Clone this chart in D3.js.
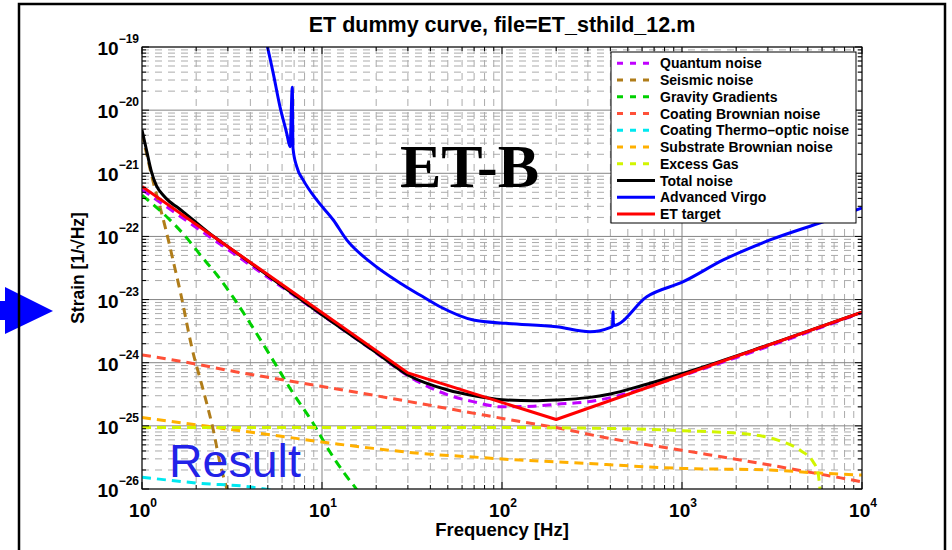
<!DOCTYPE html>
<html>
  <head>
    <title>ET-B sensitivity</title>
    <meta charset="utf-8">
    <script src="https://d3js.org/d3.v7.min.js"></script>
    <style>
      body { margin: 0; background: #fff; }
    </style>
  </head>

  <body>

    <svg width="952" height="550"></svg>

    <script>

      // values: [frequency in Hz, strain in 1/sqrt(Hz)]
      var quantumNoise = [[1, 5.5e-22], [3, 6.2e-23], [10, 5.7e-24], [20, 1.43e-24], [30, 6.2e-25], [50, 3.1e-25],
        [70, 2.4e-25], [100, 2.0e-25], [150, 2.05e-25], [200, 2.2e-25], [300, 2.4e-25],
        [400, 2.8e-25], [500, 3.3e-25], [1000, 6.2e-25], [10000, 6.2e-24]];
      var seismicNoise = [[1, 4.35e-21], [1.08, 1.62e-21], [1.166, 6.5e-22], [1.259, 2.92e-22],
        [1.359, 1.26e-22], [1.486, 4.24e-23], [1.647, 1.18e-23], [1.888, 1.79e-24], [2.239, 2.89e-25],
        [2.489, 8.6e-26], [2.713, 2.55e-26], [2.966, 1.0e-26], [3.16, 5.6e-27]];
      var gravityGradients = [[1, 4.5e-22], [1.394, 1.96e-22], [1.734, 1.02e-22], [2.154, 4.72e-23],
        [2.61, 2.45e-23], [3.2, 1.1e-23], [3.98, 4.26e-24], [5.34, 1.1e-24], [6.9, 3.31e-25],
        [8.91, 1.11e-25], [11.08, 3.85e-26], [13.77, 1.55e-26], [15.65, 9.6e-27], [17, 6.3e-27]];
      var coatingBrownian = [[1, 1.33e-24], [2, 9.5e-25], [3.3, 7.2e-25], [6.2, 5.3e-25], [10, 4.2e-25],
        [20, 3.0e-25], [35, 2.26e-25], [66, 1.63e-25], [126, 1.17e-25], [200, 9.4e-26], [365, 6.6e-26],
        [1000, 4.1e-26], [3080, 2.4e-26], [5360, 1.8e-26], [10000, 1.3e-26]];
      var coatingThermoOptic = [[1, 1.54e-26], [2.1, 1.23e-26], [4, 1.08e-26], [5, 9.8e-27], [7.5, 8.3e-27]];
      var substrateBrownian = [[1, 1.36e-25], [1.73, 1.1e-25], [3.29, 8.6e-26], [6.23, 6.7e-26],
        [11.3, 5.3e-26], [19.3, 4.4e-26], [35, 3.66e-26], [66, 3.24e-26], [126, 2.87e-26], [200, 2.7e-26],
        [1000, 2.12e-26], [3080, 2.0e-26], [5360, 1.81e-26], [10000, 1.66e-26]];
      var excessGas = [[1, 9.4e-26], [100, 9.4e-26], [500, 9.0e-26], [1000, 8.4e-26], [2300, 7.4e-26],
        [3370, 6.0e-26], [4530, 4.1e-26], [5350, 2.7e-26], [5700, 1.8e-26], [5850, 9.6e-27], [5920, 6.8e-27]];
      var totalNoise = [[1, 4.84e-21], [1.059, 2.34e-21], [1.129, 1.05e-21], [1.204, 6.3e-22],
        [1.308, 4.53e-22], [1.431, 3.51e-22], [1.565, 2.92e-22], [1.756, 2.26e-22], [2.5, 1.0e-22],
        [3, 6.9e-23], [10, 5.75e-24], [20, 1.45e-24], [30, 6.4e-25], [50, 3.7e-25], [70, 3.0e-25],
        [100, 2.6e-25], [150, 2.5e-25], [200, 2.57e-25], [300, 2.8e-25], [400, 3.2e-25], [600, 4.35e-25],
        [1000, 6.7e-25], [3000, 1.9e-24], [10000, 6.3e-24]];
      var advancedVirgo = [[4.88, 1.29e-19], [5.36, 3.83e-20], [5.84, 1.14e-20], [6.37, 4.3e-21],
        [6.64, 2.64e-21], [6.84, 2.3e-20], [6.9, 2.51e-21], [7.24, 1.27e-21], [7.87, 7.8e-22],
        [9.35, 3.78e-22], [11.56, 1.82e-22], [13.72, 8.8e-23], [18.5, 3.94e-23], [27.1, 1.83e-23],
        [35, 1.18e-23], [45.3, 7.7e-24], [69.3, 4.75e-24], [106, 4.2e-24], [201, 3.72e-24],
        [308, 3.1e-24], [398, 3.6e-24], [411, 3.75e-24], [414, 6.4e-24], [416, 3.9e-24], [637, 1.11e-23],
        [1017, 1.92e-23], [1696, 4.24e-23], [3083, 8.8e-23], [6095, 1.71e-22], [10000, 2.82e-22]];
      var etTarget = [[1, 6.2e-22], [30, 6.9e-25], [200, 1.26e-25], [10000, 6.3e-24]];

      var xTicks = [1, 10, 100, 1000, 10000];
      var xTickExp = ["0", "1", "2", "3", "4"];
      var yTicks = [1e-26, 1e-25, 1e-24, 1e-23, 1e-22, 1e-21, 1e-20, 1e-19];
      var yTickExp = ["\u221226", "\u221225", "\u221224", "\u221223", "\u221222", "\u221221", "\u221220", "\u221219"];

      var series = [
        {name: "Quantum noise", data: quantumNoise, color: "#c000ff", dashed: true},
        {name: "Seismic noise", data: seismicNoise, color: "#b07d1a", dashed: true},
        {name: "Gravity Gradients", data: gravityGradients, color: "#00d000", dashed: true},
        {name: "Coating Brownian noise", data: coatingBrownian, color: "#ff5038", dashed: true},
        {name: "Coating Thermo\u2013optic noise", data: coatingThermoOptic, color: "#00e8f0", dashed: true},
        {name: "Substrate Brownian noise", data: substrateBrownian, color: "#ffb000", dashed: true},
        {name: "Excess Gas", data: excessGas, color: "#d2f500", dashed: true},
        {name: "Total noise", data: totalNoise, color: "#000000", dashed: false},
        {name: "Advanced Virgo", data: advancedVirgo, color: "#0000ff", dashed: false},
        {name: "ET target", data: etTarget, color: "#ff0000", dashed: false, straight: true}
      ];

      var sans = "'Liberation Sans', Arial, Helvetica, sans-serif";

      var svg = d3.select("svg").style("font-family", sans),
          plot = {left: 142, right: 862, top: 47, bottom: 489};

      var x = d3.scaleLog().domain([1, 1e4]).range([plot.left, plot.right]),
          y = d3.scaleLog().domain([1e-26, 1e-19]).range([plot.bottom, plot.top]);

      // minor positions 2..9 inside every decade
      var xMinor = [], yMinor = [];
      xTicks.slice(0, -1).forEach(function(t) {
        for (var k = 2; k < 10; k++) xMinor.push(t * k);
      });
      yTicks.slice(0, -1).forEach(function(t) {
        for (var k = 2; k < 10; k++) yMinor.push(t * k);
      });

      // blue arrow on the left, under the frame
      svg.append("path")
          .attr("d", "M0,301L5,301L5,287L53,311L5,334L5,320L0,320Z")
          .attr("fill", "#0000ff");

      svg.append("rect")
          .attr("x", 19).attr("y", 4)
          .attr("width", 926).attr("height", 600)
          .attr("fill", "none")
          .attr("stroke", "#000")
          .attr("stroke-width", 2.5);

      svg.append("rect")
          .attr("x", plot.left).attr("y", plot.top)
          .attr("width", plot.right - plot.left).attr("height", plot.bottom - plot.top)
          .attr("fill", "#fff");

      // grid
      var grid = svg.append("g").attr("class", "grid");
      grid.selectAll(".vminor").data(xMinor).enter().append("line")
          .attr("x1", function(d) { return x(d); }).attr("x2", function(d) { return x(d); })
          .attr("y1", plot.top).attr("y2", plot.bottom)
          .attr("stroke", "#ababab").attr("stroke-width", 1).attr("stroke-dasharray", "7,6");
      grid.selectAll(".hminor").data(yMinor).enter().append("line")
          .attr("y1", function(d) { return y(d); }).attr("y2", function(d) { return y(d); })
          .attr("x1", plot.left).attr("x2", plot.right)
          .attr("stroke", "#ababab").attr("stroke-width", 1).attr("stroke-dasharray", "7,6");
      grid.selectAll(".vmajor").data(xTicks).enter().append("line")
          .attr("x1", function(d) { return x(d); }).attr("x2", function(d) { return x(d); })
          .attr("y1", plot.top).attr("y2", plot.bottom)
          .attr("stroke", "#858585").attr("stroke-width", 1);
      grid.selectAll(".hmajor").data(yTicks).enter().append("line")
          .attr("y1", function(d) { return y(d); }).attr("y2", function(d) { return y(d); })
          .attr("x1", plot.left).attr("x2", plot.right)
          .attr("stroke", "#858585").attr("stroke-width", 1);

      // curves
      svg.append("clipPath").attr("id", "clip")
        .append("rect")
          .attr("x", plot.left).attr("y", plot.top)
          .attr("width", plot.right - plot.left).attr("height", plot.bottom - plot.top);

      var smooth = d3.line()
          .curve(d3.curveMonotoneX)
          .x(function(d) { return x(d[0]); })
          .y(function(d) { return y(d[1]); });
      var straight = d3.line()
          .x(function(d) { return x(d[0]); })
          .y(function(d) { return y(d[1]); });

      svg.append("g")
          .attr("clip-path", "url(#clip)")
        .selectAll("path")
          .data(series)
        .enter().append("path")
          .attr("d", function(d) { return d.straight ? straight(d.data) : smooth(d.data); })
          .attr("fill", "none")
          .attr("stroke", function(d) { return d.color; })
          .attr("stroke-width", 3)
          .attr("stroke-dasharray", function(d) { return d.dashed ? "9,6" : null; })
          .attr("stroke-linejoin", "round");

      // axes box + inner ticks on all four sides
      var ax = svg.append("g").attr("stroke", "#000").attr("stroke-width", 1);
      ax.append("rect")
          .attr("x", plot.left).attr("y", plot.top)
          .attr("width", plot.right - plot.left).attr("height", plot.bottom - plot.top)
          .attr("fill", "none");

      function xTickMarks(vals, len) {
        vals.forEach(function(v) {
          ax.append("line").attr("x1", x(v)).attr("x2", x(v)).attr("y1", plot.bottom).attr("y2", plot.bottom - len);
          ax.append("line").attr("x1", x(v)).attr("x2", x(v)).attr("y1", plot.top).attr("y2", plot.top + len);
        });
      }
      function yTickMarks(vals, len) {
        vals.forEach(function(v) {
          ax.append("line").attr("y1", y(v)).attr("y2", y(v)).attr("x1", plot.left).attr("x2", plot.left + len);
          ax.append("line").attr("y1", y(v)).attr("y2", y(v)).attr("x1", plot.right).attr("x2", plot.right - len);
        });
      }
      xTickMarks(xTicks, 7); xTickMarks(xMinor, 4);
      yTickMarks(yTicks, 7); yTickMarks(yMinor, 4);

      // tick labels
      var xl = svg.selectAll(".xlab").data(xTicks).enter().append("text")
          .attr("x", function(d) { return x(d) + 1; })
          .attr("y", 517)
          .attr("text-anchor", "middle")
          .attr("font-weight", "bold")
          .attr("font-size", 19)
          .text("10");
      xl.append("tspan")
          .attr("dy", -10)
          .attr("font-size", 12)
          .text(function(d, i) { return xTickExp[i]; });

      var yl = svg.selectAll(".ylab").data(yTicks).enter().append("text")
          .attr("x", 139)
          .attr("y", function(d) { return y(d) + 8; })
          .attr("text-anchor", "end")
          .attr("font-weight", "bold")
          .attr("font-size", 19)
          .text("10");
      yl.append("tspan")
          .attr("dy", -12)
          .attr("font-size", 12)
          .text(function(d, i) { return yTickExp[i]; });

      // titles
      svg.append("text")
          .attr("x", (plot.left + plot.right) / 2).attr("y", 32)
          .attr("text-anchor", "middle")
          .attr("font-weight", "bold").attr("font-size", 21.5)
          .text("ET dummy curve, file=ET_sthild_12.m");

      svg.append("text")
          .attr("x", (plot.left + plot.right) / 2).attr("y", 536)
          .attr("text-anchor", "middle")
          .attr("font-weight", "bold").attr("font-size", 18.5)
          .text("Frequency [Hz]");

      svg.append("text")
          .attr("transform", "translate(84," + ((plot.top + plot.bottom) / 2) + ") rotate(-90)")
          .attr("text-anchor", "middle")
          .attr("font-weight", "bold").attr("font-size", 17.5)
          .text("Strain [1/\u221aHz]");

      // legend
      var legend = svg.append("g");
      legend.append("rect")
          .attr("x", 611).attr("y", 52)
          .attr("width", 245).attr("height", 171)
          .attr("fill", "#fff").attr("stroke", "#000").attr("stroke-width", 1);

      var rows = legend.selectAll(".row").data(series).enter().append("g")
          .attr("transform", function(d, i) { return "translate(0," + (63.3 + i * 16.75) + ")"; });
      rows.append("line")
          .attr("x1", 617).attr("x2", 655)
          .attr("stroke", function(d) { return d.color; })
          .attr("stroke-width", 3)
          .attr("stroke-dasharray", function(d) { return d.dashed ? "6,7" : null; });
      rows.append("text")
          .attr("x", 660).attr("y", 5)
          .attr("font-weight", "bold").attr("font-size", 14)
          .text(function(d) { return d.name; });

      // annotations
      svg.append("text")
          .attr("x", 400).attr("y", 187)
          .style("font-family", "'Liberation Serif', 'Times New Roman', serif")
          .attr("font-weight", "bold").attr("font-size", 62)
          .text("ET-B");

      svg.append("text")
          .attr("x", 169).attr("y", 477)
          .attr("font-size", 46.5)
          .attr("fill", "#2222e8")
          .text("Result");

    </script>
  </body>
</html>
